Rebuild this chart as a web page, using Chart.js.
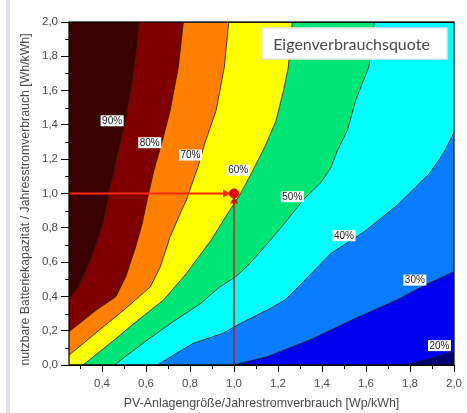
<!DOCTYPE html>
<html><head><meta charset="utf-8">
<script src="https://cdn.jsdelivr.net/npm/chart.js@4.4.0/dist/chart.umd.min.js"></script>
<style>
html,body{margin:0;padding:0;background:#fff;}
#wrap{position:relative;width:467px;height:413px;overflow:hidden;}
#stripe{position:absolute;left:6px;top:0;width:4px;height:413px;background:#dde2ea;}
canvas{position:absolute;left:0;top:0;}
</style></head><body>
<div id="wrap"><div id="stripe"></div><canvas id="c" width="467" height="413"></canvas></div>
<script>
// ---- axes ----
const xMin = 0.25, xMax = 2.0, yMin = 0.0, yMax = 2.0;
const xTicks = [0.4, 0.6, 0.8, 1.0, 1.2, 1.4, 1.6, 1.8, 2.0];
const yTicks = [0.0, 0.2, 0.4, 0.6, 0.8, 1.0, 1.2, 1.4, 1.6, 1.8, 2.0];
const xMinorTicks = [0.3, 0.5, 0.7, 0.9, 1.1, 1.3, 1.5, 1.7, 1.9];
const yMinorTicks = [0.1, 0.3, 0.5, 0.7, 0.9, 1.1, 1.3, 1.5, 1.7, 1.9];
const xTitle = 'PV-Anlagengröße/Jahrestromverbrauch [Wp/kWh]';
const yTitle = 'nutzbare Batteriekapazität / Jahresstromverbrauch [Wh/kWh]';
const boxTitle = 'Eigenverbrauchsquote';

// ---- contour levels (Eigenverbrauchsquote in %) ----
const levels = [90, 80, 70, 60, 50, 40, 30, 20];
const contour90 = [[0.25,0.389],[0.292,0.456],[0.352,0.631],[0.404,0.826],[0.434,1.02],[0.471,1.234],[0.505,1.424],[0.531,1.603],[0.553,1.816],[0.568,2.0]];
const contour80 = [[0.25,0.194],[0.374,0.32],[0.463,0.398],[0.508,0.515],[0.553,0.689],[0.583,0.826],[0.605,0.962],[0.635,1.13],[0.672,1.296],[0.71,1.486],[0.747,1.738],[0.77,2.0]];
const contour70 = [[0.25,0.058],[0.508,0.33],[0.62,0.456],[0.665,0.573],[0.71,0.748],[0.762,0.903],[0.784,0.962],[0.799,1.02],[0.835,1.15],[0.867,1.292],[0.919,1.486],[0.956,1.738],[0.976,2.0]];
const contour60 = [[0.314,0.0],[0.456,0.146],[0.546,0.243],[0.68,0.379],[0.784,0.534],[0.896,0.728],[0.96,0.86],[1.03,1.0],[1.08,1.12],[1.143,1.28],[1.19,1.42],[1.225,1.6],[1.247,1.738],[1.265,2.0]];
const contour50 = [[0.456,0.0],[0.6,0.14],[0.72,0.25],[0.85,0.36],[0.93,0.45],[1.008,0.515],[1.06,0.575],[1.113,0.651],[1.217,0.806],[1.314,0.962],[1.396,1.065],[1.44,1.15],[1.471,1.253],[1.516,1.37],[1.553,1.544],[1.613,1.738],[1.638,2.0]];
const contour40 = [[0.65,0.0],[0.814,0.126],[0.948,0.184],[1.03,0.243],[1.15,0.32],[1.232,0.379],[1.337,0.515],[1.441,0.651],[1.59,0.775],[1.74,0.93],[1.889,1.117],[1.95,1.23],[2.0,1.355]];
const contour30 = [[1.0,0.0],[1.15,0.048],[1.344,0.146],[1.568,0.281],[1.74,0.379],[1.874,0.47],[2.0,0.544]];
const contour20 = [[1.777,0.0],[1.9,0.04],[2.0,0.078]];
const contours = [contour90, contour80, contour70, contour60, contour50, contour40, contour30, contour20];
// label anchor of each contour level
const labelX = [0.446, 0.617, 0.802, 1.019, 1.265, 1.50, 1.822, 1.934];
const labelY = [1.424, 1.296, 1.224, 1.136, 0.981, 0.754, 0.495, 0.113];

// ---- marked operating point ----
const markX = 1.0, markY = 1.0;

// ---- styles ----
const fillColors = ['#3b0000','#800000','#ff8000','#ffff00','#00e676','#00ffff','#0a7cff','#0000f0'];
const baseColor = '#000070';
const FONT = '"Liberation Sans", Arial, sans-serif';

function fmt(v){ return v.toFixed(1).replace('.', ','); }
function toPoints(c){
  const p = c.map(([x,y]) => ({x, y}));
  const f = p[0], l = p[p.length-1];
  if (f.y === yMin && f.x > xMin) p.unshift({x: xMin, y: yMin});
  if (l.y === yMax && l.x < xMax) p.push({x: xMax, y: yMax});
  return p;
}

const datasets = contours.map((c, i) => ({
  label: levels[i] + '%',
  data: toPoints(c),
  fill: 'end',
  backgroundColor: fillColors[i],
  borderColor: '#1a1a1a',
  borderWidth: 0.8,
  pointRadius: 0,
  tension: 0,
  order: i + 1
}));
datasets.push({
  label: 'h', data: [{x: xMin, y: markY}, {x: markX, y: markY}],
  borderColor: '#ff2a00', borderWidth: 2, pointRadius: 0, fill: false, order: -1
});
datasets.push({
  label: 'v', data: [{x: markX, y: yMin}, {x: markX, y: markY}],
  borderColor: 'rgba(200,20,20,0.72)', borderWidth: 2, pointRadius: 0, fill: false, order: -2
});
datasets.push({
  label: 'p', data: [{x: markX, y: markY}],
  showLine: false, pointRadius: 4.5, pointBackgroundColor: '#e00000', pointBorderColor: '#e00000', order: -3
});

const decor = {
  id: 'decor',
  beforeDatasetsDraw(chart){
    const {ctx, chartArea: a} = chart;
    ctx.save();
    ctx.fillStyle = baseColor;
    ctx.fillRect(a.left, a.top, a.right - a.left, a.bottom - a.top);
    ctx.restore();
  },
  afterDatasetsDraw(chart){
    const {ctx, chartArea: a, scales: {x, y}} = chart;
    const px = x.getPixelForValue(markX), py = y.getPixelForValue(markY);
    ctx.save();
    // arrow heads
    ctx.fillStyle = '#ff2a00';
    ctx.beginPath();
    ctx.moveTo(px - 3.5, py); ctx.lineTo(px - 11, py - 4); ctx.lineTo(px - 11, py + 4); ctx.closePath(); ctx.fill();
    ctx.fillStyle = '#d01010';
    ctx.beginPath();
    ctx.moveTo(px, py + 3.5); ctx.lineTo(px - 4, py + 10); ctx.lineTo(px + 4, py + 10); ctx.closePath(); ctx.fill();
    // contour labels
    ctx.font = '10px ' + FONT;
    ctx.textAlign = 'center'; ctx.textBaseline = 'middle';
    levels.forEach((lv, i) => {
      const t = lv + '%';
      const lx = x.getPixelForValue(labelX[i]), ly = y.getPixelForValue(labelY[i]);
      const w = ctx.measureText(t).width + 3;
      ctx.fillStyle = '#ffffff';
      ctx.fillRect(lx - w/2, ly - 5.5, w, 11);
      ctx.fillStyle = '#1a1a1a';
      ctx.fillText(t, lx, ly + 0.5);
    });
    // title box
    const bw = 186, bh = 32, bx = a.right - 6.5 - bw, by = a.top + 5.5;
    ctx.fillStyle = '#ffffff';
    ctx.fillRect(bx, by, bw, bh);
    ctx.strokeStyle = '#d8d8d8'; ctx.lineWidth = 1;
    ctx.strokeRect(bx + 0.5, by + 0.5, bw - 1, bh - 1);
    ctx.fillStyle = '#4a4a4a';
    ctx.font = '16px Lato, "Open Sans", sans-serif';
    ctx.fillText(boxTitle, bx + bw/2 - 3, by + bh/2 + 1);
    ctx.restore();
  },
  afterDraw(chart){
    const {ctx, chartArea: a, scales: {x, y}} = chart;
    ctx.save();
    ctx.strokeStyle = '#000'; ctx.lineWidth = 1;
    ctx.beginPath();
    xMinorTicks.forEach(v => { const p = Math.round(x.getPixelForValue(v)) + 0.5; ctx.moveTo(p, a.bottom); ctx.lineTo(p, a.bottom + 4); });
    yMinorTicks.forEach(v => { const p = Math.round(y.getPixelForValue(v)) + 0.5; ctx.moveTo(a.left, p); ctx.lineTo(a.left - 4, p); });
    ctx.stroke();
    ctx.lineWidth = 1.2;
    ctx.strokeRect(a.left, a.top, a.right - a.left, a.bottom - a.top);
    // y axis title (slightly below the axis centre, as in the original)
    ctx.translate(26, (a.top + a.bottom) / 2 + 6);
    ctx.rotate(-Math.PI / 2);
    ctx.fillStyle = '#4a4a4a';
    ctx.font = '12.3px ' + FONT;
    ctx.textAlign = 'center'; ctx.textBaseline = 'middle';
    ctx.fillText(yTitle, 0, 0);
    ctx.restore();
  }
};

new Chart(document.getElementById('c'), {
  type: 'line',
  data: { datasets },
  plugins: [decor],
  options: {
    responsive: false,
    animation: false,
    events: [],
    layout: { autoPadding: false, padding: { left: 0, right: 7, top: 22, bottom: 0 } },
    plugins: { legend: { display: false }, tooltip: { enabled: false } },
    scales: {
      x: {
        type: 'linear', min: xMin, max: xMax,
        afterBuildTicks: s => { s.ticks = xTicks.map(v => ({value: v})); },
        afterFit: s => { s.height = 48; },
        grid: { drawOnChartArea: false, drawTicks: true, tickLength: 7, tickColor: '#000', tickWidth: 1 },
        border: { display: true, color: '#000', width: 1 },
        ticks: { color: '#4a4a4a', font: { family: FONT, size: 11.5 }, padding: 5, maxRotation: 0, autoSkip: false, callback: v => fmt(v) },
        title: { display: true, text: xTitle, color: '#4a4a4a', font: { family: FONT, size: 12.4 }, padding: { top: 0, bottom: 2 } }
      },
      y: {
        type: 'linear', min: yMin, max: yMax,
        afterBuildTicks: s => { s.ticks = yTicks.map(v => ({value: v})); },
        afterFit: s => { s.width = 69; },
        grid: { drawOnChartArea: false, drawTicks: true, tickLength: 8, tickColor: '#000', tickWidth: 1 },
        border: { display: true, color: '#000', width: 1 },
        ticks: { color: '#4a4a4a', font: { family: FONT, size: 11.5 }, padding: 3, autoSkip: false, callback: v => fmt(v) },
        title: { display: false }
      }
    }
  }
});
</script>
</body></html>
